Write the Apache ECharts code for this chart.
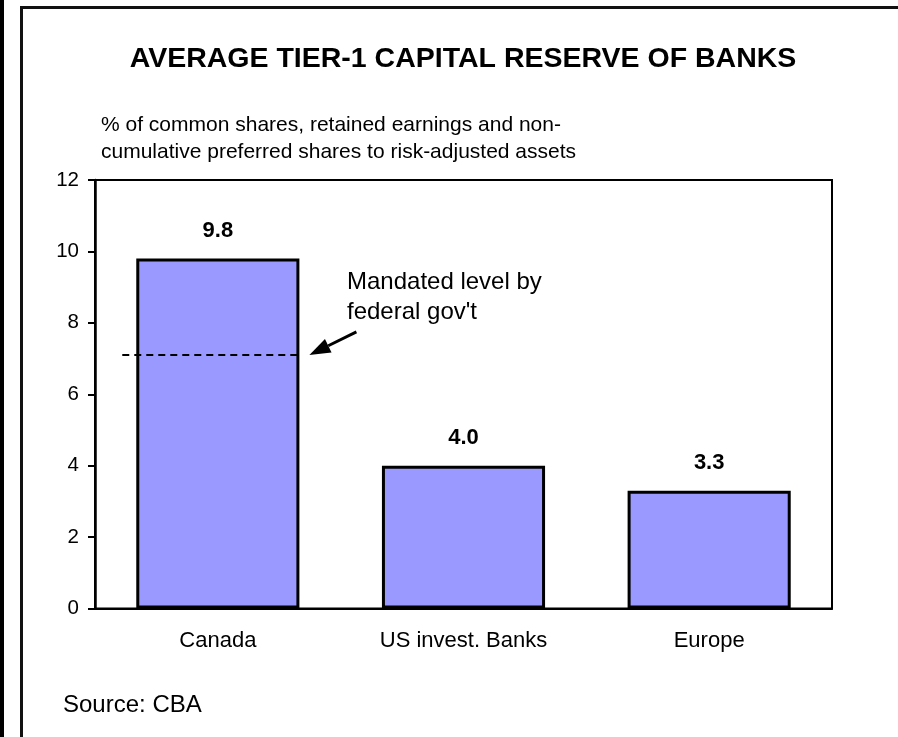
<!DOCTYPE html>
<html>
<head>
<meta charset="utf-8">
<title>Average Tier-1 Capital Reserve of Banks</title>
<script src="https://cdn.jsdelivr.net/npm/echarts@6/dist/echarts.min.js"></script>
<style>
  html, body { margin: 0; padding: 0; background: #fff; }
  #chart { width: 898px; height: 737px; }
</style>
</head>
<body>
<div id="chart"></div>
<script>
// Bank groups and their average tier-1 capital ratio (%)
const categories = ['Canada', 'US invest. Banks', 'Europe'];
const tier1Ratio = [9.8, 4.0, 3.3];
// Regulatory minimum set by the federal government (%), shown on the Canada bar
const mandatedLevel = 7.1;
const yTicks = { min: 0, max: 12, interval: 2 };

const FONT = '"Liberation Sans", Arial, Helvetica, sans-serif';
const chart = echarts.init(document.getElementById('chart'), null, { renderer: 'canvas' });

const GRID = { left: 95, right: 66, top: 180, bottom: 128.5 };
const BAR_GAP = 0.336;

const option = {
  animation: false,
  backgroundColor: '#fff',
  textStyle: { fontFamily: FONT, color: '#000' },
  title: {
    text: 'AVERAGE TIER-1 CAPITAL RESERVE OF BANKS',
    left: 458, top: 40, textAlign: 'center',
    textStyle: { fontFamily: FONT, fontSize: 28.5, fontWeight: 'bold', color: '#000' }
  },
  grid: Object.assign({}, GRID, {
    show: true, borderColor: '#000', borderWidth: 2, backgroundColor: 'transparent'
  }),
  xAxis: {
    type: 'category',
    data: categories,
    axisLine: { lineStyle: { color: '#000', width: 2 } },
    axisTick: { show: false },
    axisLabel: { color: '#000', fontSize: 22, fontFamily: FONT, margin: 21 },
    splitLine: { show: false }
  },
  yAxis: {
    type: 'value',
    min: yTicks.min, max: yTicks.max, interval: yTicks.interval,
    axisLine: { show: true, lineStyle: { color: '#000', width: 2.5 } },
    axisTick: { show: true, inside: false, length: 7, lineStyle: { color: '#000', width: 2 } },
    axisLabel: { color: '#000', fontSize: 20.5, fontFamily: FONT, margin: 16 },
    splitLine: { show: false }
  },
  series: [{
    type: 'bar',
    data: tier1Ratio,
    barCategoryGap: (BAR_GAP * 100) + '%',
    itemStyle: { color: '#9999FF', borderColor: '#000', borderWidth: 3 },
    label: {
      show: true, position: 'top', distance: 17,
      fontFamily: FONT, fontSize: 22, fontWeight: 'bold', color: '#000',
      formatter: p => p.value.toFixed(1)
    }
  }]
};
chart.setOption(option);

// Frame, subtitle, source note and the mandated-level annotation
function drawOverlay() {
  const anchor = chart.convertToPixel({ gridIndex: 0 }, [0, mandatedLevel]);
  const catWidth = (chart.getWidth() - GRID.left - GRID.right) / categories.length;
  const barHalf = catWidth * (1 - BAR_GAP) / 2;
  const lineY = anchor[1];
  const barRightX = anchor[0] + barHalf;
  const dashStartX = anchor[0] - barHalf - 14;

  // arrow pointing at the right end of the dashed line
  const tip = [barRightX + 10, lineY];
  const tail = [tip[0] + 47, tip[1] - 23];
  const ang = Math.atan2(tail[1] - tip[1], tail[0] - tip[0]);
  const headLen = 21, headHalf = 7.5;
  const bx = tip[0] + headLen * Math.cos(ang), by = tip[1] + headLen * Math.sin(ang);
  const px = -Math.sin(ang) * headHalf, py = Math.cos(ang) * headHalf;

  chart.setOption({
    graphic: [
      { type: 'rect', shape: { x: 0, y: 0, width: 4, height: 737 }, style: { fill: '#000' } },
      { type: 'rect', shape: { x: 21.5, y: 7.5, width: 900, height: 800 },
        style: { fill: 'none', stroke: '#111', lineWidth: 3 } },
      { type: 'text', left: 101, top: 112,
        style: { text: '% of common shares, retained earnings and non-\ncumulative preferred shares to risk-adjusted assets',
          font: '21px ' + FONT, fill: '#000', lineHeight: 27 } },
      { type: 'text', left: 63, top: 693,
        style: { text: 'Source: CBA', font: '24px ' + FONT, fill: '#000' } },
      { type: 'text', left: 347, top: 267,
        style: { text: 'Mandated level by\nfederal gov\'t', font: '24px ' + FONT, fill: '#000', lineHeight: 30 } },
      { type: 'line', shape: { x1: dashStartX, y1: lineY, x2: barRightX, y2: lineY },
        style: { stroke: '#000', lineWidth: 2, lineDash: [7, 5] }, z: 10 },
      { type: 'line', shape: { x1: tail[0], y1: tail[1], x2: bx, y2: by },
        style: { stroke: '#000', lineWidth: 3 } },
      { type: 'polygon', shape: { points: [tip, [bx + px, by + py], [bx - px, by - py]] },
        style: { fill: '#000' } }
    ]
  });
}
drawOverlay();
</script>
</body>
</html>
